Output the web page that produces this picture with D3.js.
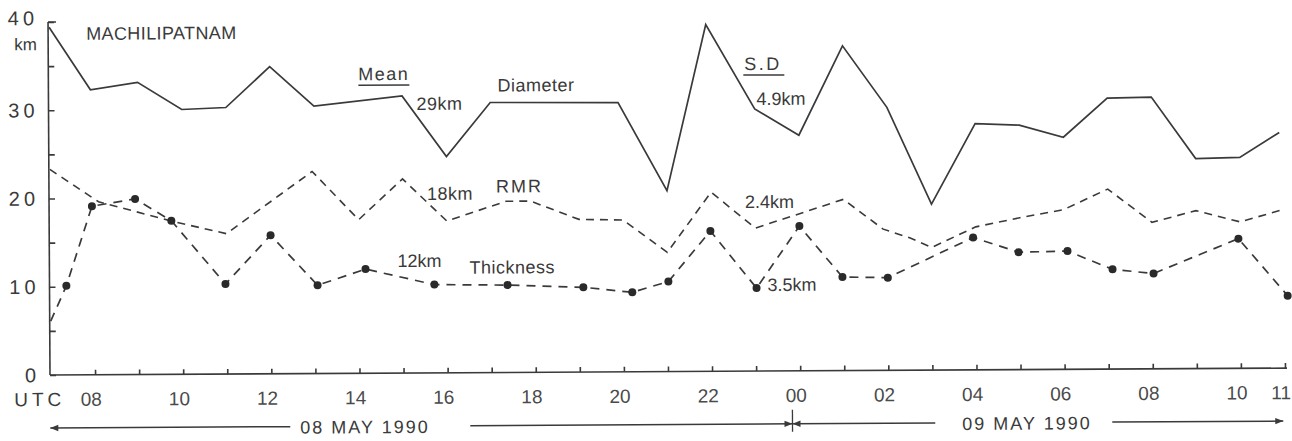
<!DOCTYPE html>
<html>
<head>
<meta charset="utf-8">
<script src="https://cdn.jsdelivr.net/npm/d3@7"></script>
<style>
  html, body { margin: 0; padding: 0; background: #fff; }
  svg { display: block; }
  text { font-family: "Liberation Sans", Arial, sans-serif; fill: #3a3a3a; }
</style>
</head>
<body>
<svg id="main-svg" width="1292" height="441"></svg>
<script>
// hours are UTC counted from 00 UTC on 08 May 1990 (24 = 00 UTC 09 May)
const diaHours   = [7, 7.93, 9, 10, 11, 12, 13, 15, 16, 17, 19.9, 21, 21.9, 23, 24, 25, 26, 27, 28, 29, 30, 31, 32, 33, 34, 34.9]
const diaValues  = [39.4, 32.3, 33.1, 30.0, 30.2, 34.8, 30.3, 31.4, 24.5, 30.6, 30.5, 20.5, 39.3, 29.7, 26.7, 36.8, 29.8, 18.8, 27.9, 27.7, 26.3, 30.7, 30.8, 23.8, 23.9, 26.7]

const rmrHours   = [7, 8.1, 9.8, 11, 12.95, 14, 15, 16, 17.35, 17.9, 19, 20, 21, 22, 23, 25, 25.9, 26.5, 27, 28, 29, 30, 31, 32, 33, 34, 35]
const rmrValues  = [23.3, 19.6, 17.3, 15.9, 22.9, 17.4, 22.0, 17.2, 19.4, 19.4, 17.3, 17.2, 13.5, 20.3, 16.2, 19.4, 16.0, 15.0, 13.9, 16.2, 17.2, 18.1, 20.4, 16.6, 17.9, 16.6, 18.0]

const thkHours   = [7, 7.36, 7.95, 8.93, 9.75, 10.97, 12, 13.06, 14.15, 15.71, 17.37, 19.09, 20.2, 21.02, 21.98, 23.02, 24, 24.97, 26, 27.94, 28.97, 30.08, 31.1, 32.03, 33.96, 35.07]
const thkValues  = [6.1, 10.1, 19.1, 19.9, 17.4, 10.2, 15.7, 10.0, 11.8, 10.0, 9.9, 9.6, 9.0, 10.2, 15.9, 9.4, 16.4, 10.6, 10.5, 15.0, 13.3, 13.4, 11.3, 10.8, 14.7, 8.2]

const yTickValues = [0, 10, 20, 30, 40]
const xTickHours  = [8, 10, 12, 14, 16, 18, 20, 22, 24, 26, 28, 30, 32, 34, 35]
const xTickLabels = ['08', '10', '12', '14', '16', '18', '20', '22', '00', '02', '04', '06', '08', '10', '11']

const ink = '#3a3a3a'
const svg = d3.select('#main-svg')
const x = d3.scaleLinear().domain([7, 35]).range([51, 1285])
const y = d3.scaleLinear().domain([0, 40]).range([375, 22])

// the scanned figure sits slightly rotated
const g = svg.append('g').attr('transform', 'rotate(-0.32,50,375)')

// axes
const yAxis = d3.axisLeft(y).tickValues(d3.range(0, 41, 5)).tickSize(-6).tickFormat('')
g.append('g').attr('transform', 'translate(50,0)').call(yAxis)
    .call(a => a.select('.domain').attr('d', 'M0,' + y(40) + 'V' + y(0)))
const xAxis = d3.axisBottom(x).tickValues(d3.range(8, 36)).tickSize(-5).tickFormat('')
g.append('g').attr('transform', 'translate(0,' + y(0) + ')').call(xAxis)
    .call(a => a.select('.domain').attr('d', 'M50,0H1287'))
g.selectAll('.domain, .tick line').attr('stroke', ink).attr('stroke-width', 1.6)
g.append('line').attr('x1', 50).attr('x2', 58).attr('y1', y(40)).attr('y2', y(40))
    .attr('stroke', ink).attr('stroke-width', 1.6)

g.selectAll('.ylab').data(yTickValues).enter().append('text')
    .attr('class', 'ylab')
    .attr('x', 40).attr('y', d => d === 40 ? y(d) + 3 : y(d) + 7)
    .attr('text-anchor', 'end')
    .style('font-size', '20px').style('letter-spacing', '4px')
    .text(d => d)
g.append('text').attr('x', 16).attr('y', 50).style('font-size', '17px').text('km')

g.selectAll('.xlab').data(xTickHours).enter().append('text')
    .attr('class', 'xlab')
    .attr('x', d => x(d) - 4).attr('y', y(0) + 31)
    .attr('text-anchor', 'middle')
    .style('font-size', '19px').style('fill', '#4a4a4a')
    .text((d, i) => xTickLabels[i])
g.append('text').attr('x', 14).attr('y', y(0) + 31).style('font-size', '19px')
    .style('letter-spacing', '4px').text('UTC')

// series
const line = d3.line().x(d => x(d[0])).y(d => y(d[1]))
const diaData = diaHours.map((h, i) => [h, diaValues[i]])
const rmrData = rmrHours.map((h, i) => [h, rmrValues[i]])
const thkData = thkHours.map((h, i) => [h, thkValues[i]])

g.append('path').datum(diaData).attr('d', line)
    .attr('fill', 'none').attr('stroke', ink).attr('stroke-width', 1.7)
g.append('path').datum(rmrData).attr('d', line)
    .attr('fill', 'none').attr('stroke', ink).attr('stroke-width', 1.6).attr('stroke-dasharray', '8,6')
g.append('path').datum(thkData).attr('d', line)
    .attr('fill', 'none').attr('stroke', ink).attr('stroke-width', 1.7).attr('stroke-dasharray', '9,7')
g.selectAll('.dot').data(thkData.slice(1)).enter().append('circle')
    .attr('class', 'dot')
    .attr('cx', d => x(d[0])).attr('cy', d => y(d[1])).attr('r', 4)
    .attr('fill', '#2a2a2a')

// annotations
function label(tx, ty, s, size, spacing) {
    return g.append('text').attr('x', tx).attr('y', ty)
        .style('font-size', size + 'px').style('letter-spacing', (spacing || 0) + 'px').text(s)
}
label(88, 40, 'MACHILIPATNAM', 18, 0.4)
label(360, 82, 'Mean', 18, 1.5)
g.append('line').attr('x1', 360).attr('x2', 411).attr('y1', 87).attr('y2', 87).attr('stroke', ink).attr('stroke-width', 1.5)
label(418, 112, '29km', 18, 0.5)
label(499, 94, 'Diameter', 18, 0.5)
label(746, 74, 'S.D', 18, 2.5)
g.append('line').attr('x1', 745).attr('x2', 786).attr('y1', 79).attr('y2', 79).attr('stroke', ink).attr('stroke-width', 1.5)
label(758, 109, '4.9km', 18, 0)
label(428, 202, '18km', 18, 0.5)
label(497, 195, 'RMR', 18, 2)
label(746, 212, '2.4km', 18, 0)
label(398, 269, '12km', 18, 0)
label(470, 276, 'Thickness', 18, 0.5)
label(768, 295, '3.5km', 18, 0)

// date arrows
const defs = svg.append('defs')
defs.append('marker').attr('id', 'ah').attr('viewBox', '0 0 10 10')
    .attr('refX', 10).attr('refY', 5).attr('markerWidth', 12).attr('markerHeight', 8)
    .attr('markerUnits', 'userSpaceOnUse').attr('orient', 'auto')
    .append('path').attr('d', 'M0,1L10,5L0,9Z').attr('fill', ink)
const ay = 428
function arrow(x1, x2) {
    g.append('line').attr('x1', x1).attr('x2', x2).attr('y1', ay).attr('y2', ay)
        .attr('stroke', ink).attr('stroke-width', 1.5).attr('marker-end', 'url(#ah)')
}
const mid = x(24) - 8
arrow(290, x(7) - 1)
arrow(470, mid)
arrow(935, mid)
arrow(1112, x(35) - 2)
g.append('line').attr('x1', mid).attr('x2', mid).attr('y1', ay - 14).attr('y2', ay + 8)
    .attr('stroke', ink).attr('stroke-width', 1.3)
label(300, ay + 7, '08 MAY 1990', 18, 2)
label(962, ay + 7, '09 MAY 1990', 18, 2)
</script>
</body>
</html>
